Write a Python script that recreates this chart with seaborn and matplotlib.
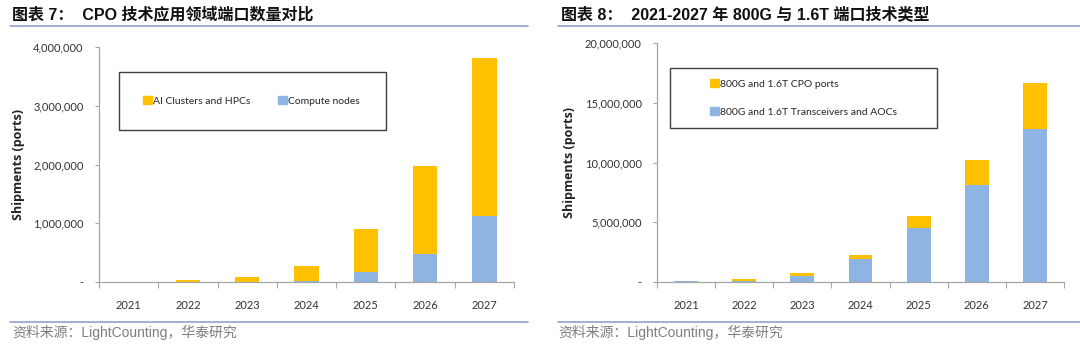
import matplotlib
matplotlib.use("Agg")
import matplotlib.pyplot as plt
import seaborn as sns
import pandas as pd
from matplotlib.patches import Patch, Rectangle
from matplotlib.lines import Line2D
from matplotlib.ticker import FuncFormatter

# ---- data ----
years = ["2021", "2022", "2023", "2024", "2025", "2026", "2027"]
compute_nodes = [0, 0, 0, 20000, 170000, 480000, 1120000]
ai_clusters = [5000, 30000, 80000, 250000, 730000, 1490000, 2690000]
transceivers_aocs = [100000, 110000, 530000, 1900000, 4500000, 8100000, 12800000]
cpo_ports = [0, 170000, 200000, 340000, 1000000, 2100000, 3900000]

title_left = "图表 7：  CPO 技术应用领域端口数量对比"
title_right = "图表 8：  2021-2027 年 800G 与 1.6T 端口技术类型"
source_text = "资料来源：LightCounting，华泰研究"
ylabel = "Shipments (ports)"
left_labels = ["AI Clusters and HPCs", "Compute nodes"]
right_labels = ["800G and 1.6T CPO ports", "800G and 1.6T Transceivers and AOCs"]

YELLOW = "#FFC000"
BLUE = "#8DB4E2"
LINE = "#8EA5C8"

sns.set_theme(style="white")
plt.rcParams["font.family"] = ["Lato", "Noto Sans CJK SC", "DejaVu Sans"]

W, H = 1080, 345
fig = plt.figure(figsize=(W / 100, H / 100), dpi=100)

def fx(px):
    return px / W

def fy(py):
    return 1 - py / H

def fmt(v, pos):
    return "-" if v == 0 else f"{int(v):,}"

def draw(ax, bottom_vals, top_vals, ymax, step):
    totals = [a + b for a, b in zip(bottom_vals, top_vals)]
    df = pd.DataFrame({"year": years, "total": totals, "bottom": bottom_vals})
    sns.barplot(data=df, x="year", y="total", color=YELLOW, width=0.41,
                saturation=1, ax=ax, linewidth=0)
    sns.barplot(data=df, x="year", y="bottom", color=BLUE, width=0.41,
                saturation=1, ax=ax, linewidth=0)
    ax.set_xlim(-0.5, len(years) - 0.5)
    ax.set_ylim(0, ymax)
    ax.set_yticks(range(0, ymax + 1, step))
    ax.yaxis.set_major_formatter(FuncFormatter(fmt))
    ax.set_xlabel("")
    ax.set_ylabel(ylabel, fontsize=9, fontweight="bold", family=["Open Sans", "DejaVu Sans"],
                  color="#222222")
    for s in ["top", "right"]:
        ax.spines[s].set_visible(False)
    for s in ["left", "bottom"]:
        ax.spines[s].set_color("#A6A6A6")
        ax.spines[s].set_linewidth(0.9)
    ax.tick_params(axis="y", left=True, length=3, width=0.8, color="#A6A6A6",
                   labelsize=8, labelcolor="#333333", pad=8)
    ax.set_xticks(range(len(years)))
    ax.set_xticklabels(years)
    ax.tick_params(axis="x", bottom=False, labelsize=8, labelcolor="#333333", pad=7)
    ax.set_xticks([i - 0.5 for i in range(len(years) + 1)], minor=True)
    ax.tick_params(axis="x", which="minor", bottom=True, length=4, width=0.8, color="#A6A6A6")
    ax.grid(False)

# left chart
ax1 = fig.add_axes([fx(99), fy(282), fx(514 - 99), (282 - 47) / H])
draw(ax1, compute_nodes, ai_clusters, 4000000, 1000000)
ax1.yaxis.set_label_coords(-0.178, 0.5)

# right chart
ax2 = fig.add_axes([fx(657), fy(282), fx(1064 - 657), (282 - 43.3) / H])
draw(ax2, transceivers_aocs, cpo_ports, 20000000, 5000000)
ax2.yaxis.set_label_coords(-0.2, 0.5)

# legend boxes
fig.patches.append(Rectangle((fx(119), fy(130)), fx(386 - 119), (130 - 72) / H,
                             transform=fig.transFigure, fill=False,
                             edgecolor="#404040", linewidth=1.0))
fig.patches.append(Rectangle((fx(670), fy(127.7)), fx(937 - 670), (127.7 - 67.7) / H,
                             transform=fig.transFigure, fill=False,
                             edgecolor="#404040", linewidth=1.0))

h1 = [Patch(color=YELLOW), Patch(color=BLUE)]
leg1 = fig.legend(h1, left_labels, loc="center left", bbox_to_anchor=(fx(143), fy(101)),
                  ncol=2, frameon=False, fontsize=7.5, handlelength=0.85, handleheight=0.85,
                  handletextpad=0.15, columnspacing=2.6, borderaxespad=0, borderpad=0)
h2 = [Patch(color=YELLOW), Patch(color=BLUE)]
leg2 = fig.legend(h2, right_labels, loc="center left", bbox_to_anchor=(fx(710), fy(97.7)),
                  ncol=1, frameon=False, fontsize=7.5, handlelength=0.85, handleheight=0.85,
                  handletextpad=0.15, labelspacing=1.75, borderaxespad=0, borderpad=0)

# titles
tfam = ["Liberation Sans", "Noto Sans CJK SC"]
fig.text(fx(12), fy(14), title_left, fontsize=11.5, fontweight="bold", family=tfam,
         va="center", ha="left", color="#111111")
fig.text(fx(561), fy(14), title_right, fontsize=11.5, fontweight="bold", family=tfam,
         va="center", ha="left", color="#111111")

# separator lines
for (x0, x1) in [(10, 528), (558, 1080)]:
    for yy in (25.5, 322):
        fig.add_artist(Line2D([fx(x0), fx(x1)], [fy(yy), fy(yy)], transform=fig.transFigure,
                              color=LINE, linewidth=1.2))

# footers
ffam = ["Liberation Sans", "Noto Sans CJK SC"]
fig.text(fx(12), fy(332), source_text, fontsize=10, family=ffam, va="center", ha="left",
         color="#7F7F7F")
fig.text(fx(558), fy(332), source_text, fontsize=10, family=ffam, va="center", ha="left",
         color="#7F7F7F")

fig.savefig("out.png", dpi=100)
